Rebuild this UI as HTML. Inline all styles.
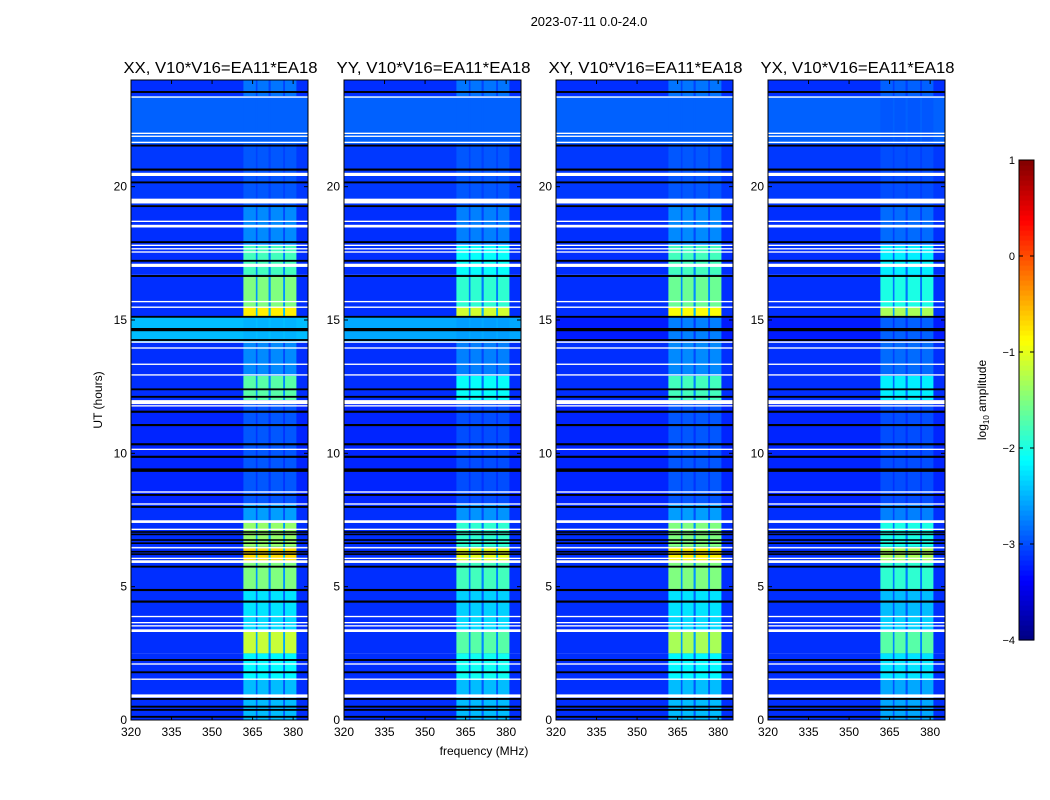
<!DOCTYPE html>
<html><head><meta charset="utf-8">
<style>
body{margin:0;background:#fff;}
svg{display:block;font-family:"Liberation Sans",sans-serif;}
</style></head>
<body>
<svg id="chart" width="1050" height="800" viewBox="0 0 1050 800">
<text x="589" y="26" font-size="13" text-anchor="middle">2023-07-11 0.0-24.0</text>
<text x="484" y="755" font-size="12" text-anchor="middle">frequency (MHz)</text>
<text transform="translate(102,400) rotate(-90)" font-size="12" text-anchor="middle">UT (hours)</text>
<g id="panels"></g>
<g id="cbar"></g>
</svg>
<script>
const panelTitles = ["XX, V10*V16=EA11*EA18","YY, V10*V16=EA11*EA18","XY, V10*V16=EA11*EA18","YX, V10*V16=EA11*EA18"];
const xTicks = [320,335,350,365,380];
const yTicks = [0,5,10,15,20];
const cbTicks = [1,0,-1,-2,-3,-4];
const subBands = [[361.6,366.2],[366.8,370.9],[371.7,376.3],[377,381.2]];
const segStart = [0,1.5,2.5,3.35,3.9,4.9,5.9,6.5,7.4,8.1,12.0,12.9,14.2,15.1,15.5,16.7,17.8,19.3,21.6,23.4];
const segEnd   = [1.5,2.5,3.35,3.9,4.9,5.9,6.5,7.4,8.1,12.0,12.9,14.2,15.1,15.5,16.7,17.8,19.3,21.6,23.4,24];
const bandXX = [-2.45,-2.15,-1.15,-2.3,-2.25,-1.5,-0.7,-1.4,-2.6,-2.95,-1.7,-2.7,-2.5,-0.8,-1.5,-1.8,-2.7,-2.95,-2.9,-2.8];
const bandYY = [-2.45,-2.05,-1.7,-2.3,-2.35,-1.8,-1.0,-1.9,-2.65,-3.0,-2.1,-2.75,-2.6,-1.1,-1.9,-2.1,-2.75,-2.95,-2.9,-2.8];
const bandXY = [-2.45,-2.15,-1.3,-2.3,-2.25,-1.5,-0.8,-1.5,-2.6,-2.95,-1.8,-2.7,-2.75,-0.9,-1.6,-1.8,-2.7,-2.95,-2.9,-2.8];
const bandYX = [-2.55,-2.25,-1.7,-2.35,-2.45,-1.9,-1.3,-2.0,-2.75,-3.0,-2.2,-2.85,-2.9,-1.3,-2.0,-2.2,-2.85,-3.0,-2.95,-2.9];
const bgXX = [-3.15,-3.15,-3.15,-3.15,-3.15,-3.15,-3.15,-3.15,-3.15,-3.2,-3.15,-3.15,-2.45,-3.15,-3.15,-3.15,-3.15,-3.1,-2.9,-3.15];
const bgYY = [-3.15,-3.15,-3.15,-3.15,-3.15,-3.15,-3.15,-3.15,-3.15,-3.2,-3.15,-3.15,-2.55,-3.15,-3.15,-3.15,-3.15,-3.1,-2.9,-3.15];
const bgXY = [-3.15,-3.15,-3.15,-3.15,-3.15,-3.15,-3.15,-3.15,-3.15,-3.2,-3.15,-3.15,-3.25,-3.15,-3.15,-3.15,-3.15,-3.1,-2.9,-3.15];
const bgYX = [-3.15,-3.15,-3.15,-3.15,-3.15,-3.15,-3.15,-3.15,-3.15,-3.2,-3.15,-3.15,-3.25,-3.15,-3.15,-3.15,-3.15,-3.1,-2.9,-3.15];
const whiteRows = [[23.36,0.05],[22.0,0.05],[21.89,0.05],[21.66,0.05],[20.46,0.12],[19.46,0.18],[18.7,0.05],[18.52,0.1],[17.8,0.05],[17.67,0.05],[17.55,0.05],[17.05,0.12],[15.69,0.05],[15.48,0.05],[14.17,0.05],[13.95,0.05],[13.34,0.05],[12.94,0.05],[11.92,0.15],[11.78,0.05],[10.15,0.05],[8.55,0.05],[8.1,0.05],[7.44,0.1],[7.15,0.05],[6.46,0.05],[6.06,0.05],[5.94,0.1],[3.88,0.05],[3.65,0.05],[3.53,0.05],[3.35,0.1],[2.1,0.05],[1.53,0.05],[0.9,0.12]];
const blackRows = [[23.55,0.07],[21.54,0.07],[20.64,0.08],[20.16,0.07],[19.27,0.07],[17.92,0.07],[17.22,0.07],[16.65,0.07],[15.12,0.07],[14.64,0.12],[14.25,0.07],[12.4,0.07],[12.12,0.07],[11.56,0.08],[11.06,0.08],[10.34,0.08],[9.87,0.08],[9.4,0.07],[9.34,0.07],[8.44,0.07],[7.99,0.07],[7.05,0.06],[6.96,0.06],[6.75,0.06],[6.63,0.06],[6.31,0.06],[6.22,0.06],[5.75,0.07],[4.875,0.08],[4.44,0.08],[2.25,0.07],[1.79,0.07],[0.79,0.07],[0.5,0.07],[0.38,0.07],[0.12,0.07]];

const bands = [bandXX,bandYY,bandXY,bandYX];
const bgs = [bgXX,bgYY,bgXY,bgYX];
const panelLeft = [131,344,556,768];
const PW = 177, TOP = 80, BOT = 720, FMIN = 320, FMAX = 385.5, TMAX = 24;
const NS = "http://www.w3.org/2000/svg";
function jet(v){
  const t = Math.max(0,Math.min(1,(v+4)/5));
  const c = x=>Math.round(255*Math.max(0,Math.min(1,1.5-Math.abs(x))));
  return `rgb(${c(4*t-3)},${c(4*t-2)},${c(4*t-1)})`;
}
function mk(tag, attrs, parent){
  const e = document.createElementNS(NS, tag);
  for (const k in attrs) e.setAttribute(k, attrs[k]);
  parent.appendChild(e); return e;
}
const panels = document.getElementById('panels');
for (let p=0;p<4;p++){
  const x0 = panelLeft[p];
  const xs = f => x0 + (f-FMIN)/(FMAX-FMIN)*PW;
  const ys = h => BOT - h/TMAX*(BOT-TOP);
  const g = mk('g',{},panels);
  
  
  for (let i=0;i<segStart.length;i++){
    const y1 = ys(segEnd[i]), y2 = ys(segStart[i]);
    const r = mk('rect',{x:x0,y:y1,width:PW,height:y2-y1,fill:jet(bgs[p][i])},g);
    
    
    const mid = (bgs[p][i]*0.7 + bands[p][i]*0.3);
    const rb = mk('rect',{x:xs(subBands[0][0]),y:y1,width:xs(subBands[3][1])-xs(subBands[0][0]),height:y2-y1,fill:jet(Math.max(mid,bgs[p][i]))},g);
    
    
    for (const sb of subBands){
      const c = mk('rect',{x:xs(sb[0]),y:y1,width:xs(sb[1])-xs(sb[0]),height:y2-y1,fill:jet(bands[p][i])},g);
      
      
    }
  }
  for (const [h,w] of blackRows){
    const r = mk('rect',{x:x0,y:ys(h+w/2),width:PW,height:Math.max(1,w/TMAX*640),fill:'#000'},g);
    
    
  }
  for (const [h,w] of whiteRows){
    const r = mk('rect',{x:x0,y:ys(h+w/2),width:PW,height:Math.max(1,w/TMAX*640),fill:'#fff'},g);
    
    
  }
  const fr = mk('rect',{x:x0,y:TOP,width:PW,height:BOT-TOP,fill:'none',stroke:'#000','stroke-width':1},g);
  
  
  const tt = mk('text',{x:x0+PW/2+1,y:73,'font-size':16,'text-anchor':'middle',textLength:194,lengthAdjust:'spacingAndGlyphs'},g);
  tt.textContent = panelTitles[p];
  
  
  for (const f of xTicks){
    const x = xs(f);
    mk('line',{x1:x,x2:x,y1:BOT,y2:BOT-4,stroke:'#000'},g);
    mk('line',{x1:x,x2:x,y1:TOP,y2:TOP+4,stroke:'#000'},g);
    const t = mk('text',{x:x,y:BOT+16,'font-size':12,'text-anchor':'middle'},g);
    t.textContent = f;
    
    
  }
  for (const h of yTicks){
    const y = ys(h);
    mk('line',{x1:x0,x2:x0+4,y1:y,y2:y,stroke:'#000'},g);
    mk('line',{x1:x0+PW,x2:x0+PW-4,y1:y,y2:y,stroke:'#000'},g);
    const t = mk('text',{x:x0-4,y:y+4,'font-size':12,'text-anchor':'end'},g);
    t.textContent = h;
    
    
  }
}
const cb = document.getElementById('cbar');
const CX=1019, CW=15, CT=160, CB=640;
const cys = v => CB - (v+4)/5*(CB-CT);
for (let i=0;i<96;i++){
  const v0 = -4 + i*5/96, v1 = -4 + (i+1)*5/96;
  const r = mk('rect',{x:CX,y:cys(v1),width:CW,height:cys(v0)-cys(v1)+0.6,fill:jet((v0+v1)/2)},cb);
  
  
}
const cf = mk('rect',{x:CX,y:CT,width:CW,height:CB-CT,fill:'none',stroke:'#000'},cb);


for (const v of cbTicks){
  const y = cys(v);
  mk('line',{x1:CX,x2:CX+4,y1:y,y2:y,stroke:'#000'},cb);
  mk('line',{x1:CX+CW,x2:CX+CW-4,y1:y,y2:y,stroke:'#000'},cb);
  const t = mk('text',{x:CX-4,y:y+4,'font-size':11,'text-anchor':'end'},cb);
  t.textContent = v<0 ? '\u2212'+(-v) : v;
  
  
}
const cl = mk('text',{transform:'translate(986,400) rotate(-90)','font-size':12,'text-anchor':'middle'},cb);
cl.innerHTML = 'log<tspan font-size="8" dy="3">10</tspan><tspan dy="-3"> amplitude</tspan>';


</script>
</body></html>
